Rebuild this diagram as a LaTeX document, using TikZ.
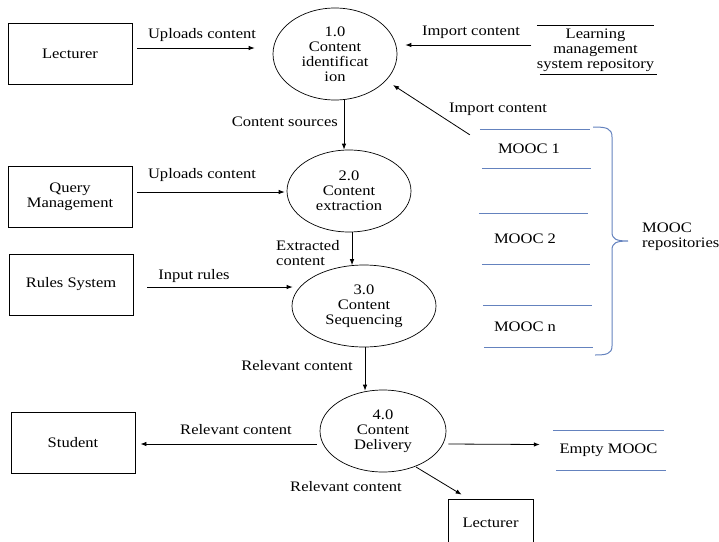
\documentclass[tikz,border=0pt]{standalone}
\usepackage{fontspec}
\setmainfont[FakeStretch=1.14]{Liberation Serif}
\usetikzlibrary{shapes.geometric,arrows.meta,calc}
\definecolor{storeblue}{RGB}{100,130,190}
\begin{document}
\begin{tikzpicture}[x=1pt,y=-1pt,font=\rmfamily\fontsize{14.5}{15}\selectfont,
  ext/.style={draw, line width=0.8pt, minimum width=124pt, minimum height=61pt, inner sep=0pt, align=center},
  proc/.style={ellipse, draw, line width=0.7pt, align=center, inner sep=0pt},
  lbl/.style={inner sep=0pt, align=center},
  arr/.style={-{Latex[length=6pt,width=4.5pt]}, line width=0.8pt},
  store/.style={inner sep=0pt, align=center},
  storeline/.style={draw=storeblue, line width=1pt}]
\useasboundingbox (0,0) rectangle (719,541);
\clip (0,0) rectangle (719,541);

% external entities
\node[ext] (lec1) at (70,53.5) {Lecturer};
\node[ext] (qm) at (70,196.5) {Query\\Management};
\node[ext] (rs) at (71,284.5) {Rules System};
\node[ext] (stu) at (73,442.5) {Student};
\node[ext, minimum width=85pt, minimum height=47pt] (lec2) at (490.5,522.5) {Lecturer};

% processes
\node[proc, minimum width=124pt, minimum height=92pt] (p1) at (335,54) {1.0\\Content\\identificat\\ion};
\node[proc, minimum width=124pt, minimum height=82pt] (p2) at (349,191) {2.0\\Content\\extraction};
\node[proc, minimum width=144pt, minimum height=82pt] (p3) at (364,306) {3.0\\Content\\Sequencing};
\node[proc, minimum width=126pt, minimum height=82pt] (p4) at (383,431) {4.0\\Content\\Delivery};

% data stores
\node[store, minimum width=111pt, minimum height=48pt] (lms) at (595.5,50) {Learning\\management\\system repository};
\draw[line width=0.8pt] (lms.north west) -- (lms.north east);
\draw[line width=0.8pt] ($(lms.south west)+(3,0)$) -- ($(lms.south east)+(3,0)$);

\node[store, minimum width=110pt, minimum height=38pt] (m1) at (535,149) {\hspace*{-12pt}MOOC 1};
\draw[storeline] (m1.north west) -- (m1.north east);
\draw[storeline] ($(m1.south west)+(2,0)$) -- ($(m1.south east)+(1,0)$);

\node[store, minimum width=110pt, minimum height=50pt] (m2) at (535,239) {\hspace*{-20pt}MOOC 2};
\draw[storeline] ($(m2.north west)+(-1,0)$) -- ($(m2.north east)+(-2,0)$);
\draw[storeline] ($(m2.south west)+(2,0)$) -- (m2.south east);

\node[store, minimum width=110pt, minimum height=41pt] (mn) at (538,326.5) {\hspace*{-26pt}MOOC n};
\draw[storeline] (mn.north west) -- ($(mn.north east)+(-1,0)$);
\draw[storeline] ($(mn.south west)+(1,0)$) -- (mn.south east);

\node[store, minimum width=111pt, minimum height=39pt] (emp) at (608.5,450.5) {Empty MOOC};
\draw[storeline] (emp.north west) -- (emp.north east);
\draw[storeline] ($(emp.south west)+(3,0)$) -- ($(emp.south east)+(2,0)$);

% brace
\draw[storeblue, line width=1pt] (593,127) .. controls (606,127) and (612,128) .. (612,137)
  -- (612,232) .. controls (612,239) and (616,241) .. (628,241)
  .. controls (616,241) and (612,243) .. (612,250)
  -- (612,346) .. controls (612,354) and (606,355) .. (595,355);
\node[lbl, anchor=west, align=left] (mrep) at (642,237) {MOOC\\repositories};

% connectors
\draw[arr] ($(lec1.east)+(5,-5.5)$) -- ($(p1.west)+(-18,-6)$);
\node[lbl] (l1) at (202,35) {Uploads content};

\draw[arr] ($(lms.west)+(-5.5,-5)$) -- ($(p1.east)+(8,-9)$);
\node[lbl] (l2) at (471,32) {Import content};

\draw[arr] ($(m1.north west)+(-10,5)$) -- ($(p1.center)+(58,31)$);
\node[lbl] (l3) at (498,109) {Import content};

\draw[arr] ($(p1.south)+(9,0)$) -- ($(p2.north)+(-5,0)$);
\node[lbl, anchor=east] (l4) at (338,122) {Content sources};

\draw[arr] ($(qm.east)+(5,-4.5)$) -- ($(p2.west)+(-2,1)$);
\node[lbl] (l5) at (202,175) {Uploads content};

\draw[arr] ($(p2.south)+(3,0)$) -- ($(p3.north)+(-12,0.5)$);
\node[lbl, anchor=west, align=left] (l6) at (276,253) {Extracted\\content};

\draw[arr] ($(rs.east)+(14,2.5)$) -- ($(p3.west)+(1,-19)$);
\node[lbl] (l7) at (194,276) {Input rules};

\draw[arr] ($(p3.south)+(1,0)$) -- ($(p4.north)+(-18,1)$);
\node[lbl, anchor=east] (l8) at (353,366) {Relevant content};

\draw[arr] ($(p4.west)+(-3,13)$) -- ($(stu.east)+(5,1.5)$);
\node[lbl] (l9) at (236,430) {Relevant content};

\draw[arr] ($(p4.east)+(2,13)$) -- ($(emp.west)+(-13,-6)$);

\draw[arr] ($(p4.center)+(33,36)$) -- ($(lec2.north west)+(14,-4)$);
\node[lbl] (l10) at (346,487) {Relevant content};
\end{tikzpicture}
\end{document}
